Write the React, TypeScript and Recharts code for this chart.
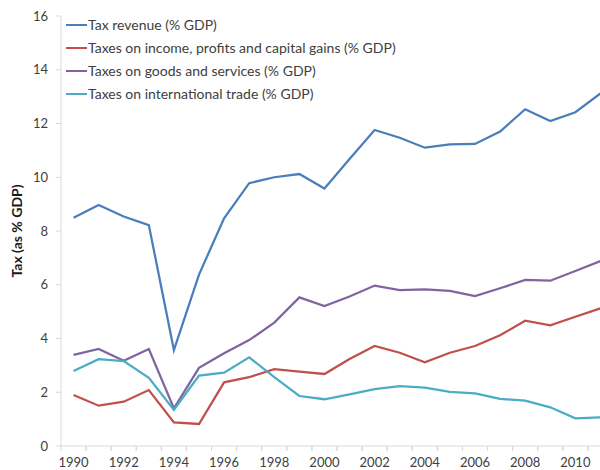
import React from "react"
import { LineChart, Line, XAxis, YAxis, Legend } from "recharts"

const years = [
  "1990", "1991", "1992", "1993", "1994", "1995", "1996", "1997", "1998", "1999", "2000",
  "2001", "2002", "2003", "2004", "2005", "2006", "2007", "2008", "2009", "2010", "2011",
]

const taxRevenue = [
  8.49, 8.97, 8.54, 8.22, 3.57, 6.38, 8.47, 9.78, 10.0, 10.12, 9.58,
  10.68, 11.76, 11.47, 11.1, 11.22, 11.24, 11.7, 12.53, 12.09, 12.42, 13.12,
]
const incomeTaxes = [
  1.9, 1.5, 1.65, 2.08, 0.88, 0.82, 2.37, 2.56, 2.86, 2.77, 2.68,
  3.24, 3.72, 3.47, 3.11, 3.47, 3.72, 4.12, 4.66, 4.49, 4.81, 5.12,
]
const goodsTaxes = [
  3.39, 3.61, 3.17, 3.61, 1.4, 2.91, 3.45, 3.94, 4.59, 5.53, 5.21,
  5.56, 5.97, 5.8, 5.83, 5.77, 5.58, 5.87, 6.18, 6.15, 6.51, 6.88,
]
const tradeTaxes = [
  2.79, 3.23, 3.16, 2.54, 1.34, 2.62, 2.73, 3.3, 2.56, 1.86, 1.74,
  1.92, 2.12, 2.23, 2.17, 2.01, 1.96, 1.75, 1.69, 1.44, 1.03, 1.07,
]

const seriesNames = [
  "Tax revenue (% GDP)",
  "Taxes on income, profits and capital gains (% GDP)",
  "Taxes on goods and services (% GDP)",
  "Taxes on international trade (% GDP)",
]
const yTicks = [0, 2, 4, 6, 8, 10, 12, 14, 16]

const data = years.map((year, i) => ({
  year,
  revenue: taxRevenue[i],
  income: incomeTaxes[i],
  goods: goodsTaxes[i],
  trade: tradeTaxes[i],
}))

const FONT = "Lato, 'Open Sans', sans-serif"
const TEXT = "#404040"
const AXIS = "#d9d9d9"
const HALF_BAND = 12.55

function YearTick(props: any) {
  const { x, y, payload, index } = props
  const showLabel = index % 2 === 0
  return (
    <g>
      <line x1={x - HALF_BAND} y1={y} x2={x - HALF_BAND} y2={y + 5} stroke={AXIS} />
      <line x1={x + HALF_BAND} y1={y} x2={x + HALF_BAND} y2={y + 5} stroke={AXIS} />
      {showLabel && (
        <text x={x} y={y + 21} textAnchor="middle" fill={TEXT} fontSize={13} fontFamily={FONT}>
          {payload.value}
        </text>
      )}
    </g>
  )
}

// keep legend rows in series order (recharts sorts them by name otherwise)
function LegendList(props: any) {
  const items = [...(props.payload || [])].sort(
    (a: any, b: any) => seriesNames.indexOf(a.value) - seriesNames.indexOf(b.value)
  )
  return (
    <div style={{ fontFamily: FONT, fontSize: 14, color: TEXT }}>
      {items.map((entry: any) => (
        <div key={entry.value} style={{ display: "flex", alignItems: "center", height: 23, whiteSpace: "nowrap" }}>
          <span style={{ display: "inline-block", width: 21, height: 2, background: entry.color, marginRight: 1 }} />
          <span>{entry.value}</span>
        </div>
      ))}
    </div>
  )
}

export default function App() {
  return (
    <div style={{ position: "absolute", left: 0, top: 0, width: 600, height: 470, overflow: "hidden", background: "#fff" }}>
      <LineChart width={613} height={470} data={data} margin={{ top: 16, right: 0, bottom: 0, left: 0 }}>
        <XAxis
          dataKey="year"
          interval={0}
          height={24}
          padding={{ left: HALF_BAND, right: HALF_BAND }}
          stroke={AXIS}
          tickLine={false}
          tickSize={0}
          tickMargin={0}
          tick={<YearTick />}
        />
        <YAxis
          width={61}
          domain={[0, 16]}
          ticks={yTicks}
          stroke={AXIS}
          tickSize={5}
          tickMargin={8}
          tick={{ fill: TEXT, fontSize: 13, fontFamily: FONT }}
          label={{
            value: "Tax (as % GDP)",
            angle: -90,
            position: "center",
            dx: -13,
            style: { fill: "#1a1a1a", fontSize: 14, fontWeight: "bold", fontFamily: FONT },
          }}
        />
        <Legend
          layout="horizontal"
          verticalAlign="middle"
          align="center"
          content={<LegendList />}
          wrapperStyle={{ left: 66, top: 13, width: "auto" }}
        />
        <Line dataKey="revenue" name={seriesNames[0]} stroke="#4a7ebb" strokeWidth={2.25} dot={false} isAnimationActive={false} />
        <Line dataKey="income" name={seriesNames[1]} stroke="#c0504d" strokeWidth={2.25} dot={false} isAnimationActive={false} />
        <Line dataKey="goods" name={seriesNames[2]} stroke="#8064a2" strokeWidth={2.25} dot={false} isAnimationActive={false} />
        <Line dataKey="trade" name={seriesNames[3]} stroke="#4bacc6" strokeWidth={2.25} dot={false} isAnimationActive={false} />
      </LineChart>
    </div>
  )
}
